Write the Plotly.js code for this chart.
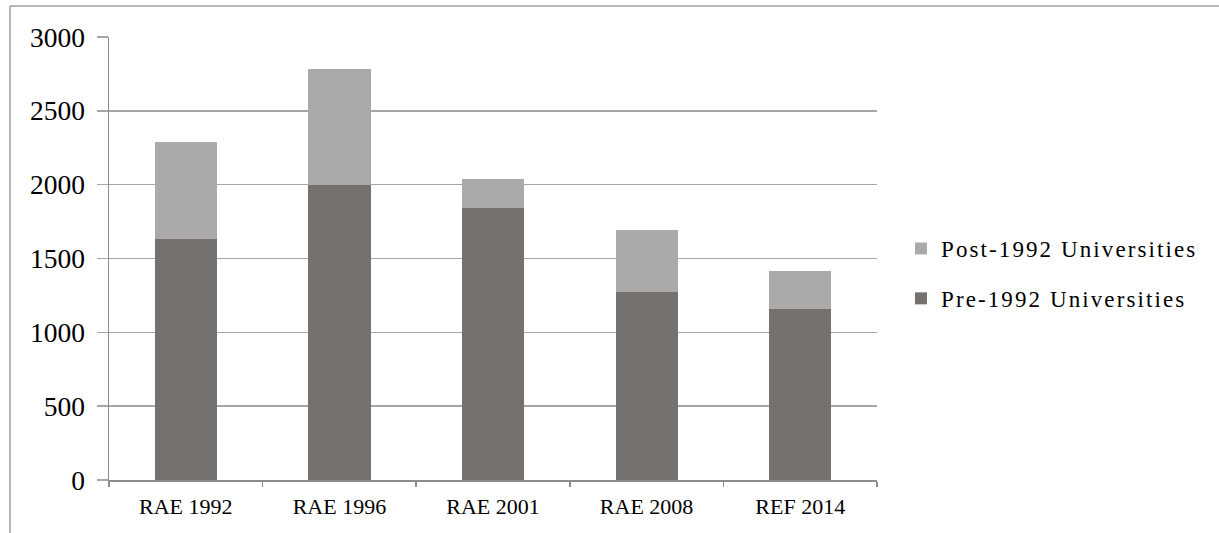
<!DOCTYPE html>
<html>
<head>
<meta charset="utf-8">
<script src="https://cdn.plot.ly/plotly-3.0.1.min.js"></script>
<style>
html,body{margin:0;padding:0;background:#fff;}
.legendtext{letter-spacing:2.1px;}
</style>
</head>
<body>
<div id="chart" style="width:1219px;height:533px;"></div>
<script>
const categories = ["RAE 1992", "RAE 1996", "RAE 2001", "RAE 2008", "REF 2014"];
const pre1992 = [1630, 2000, 1840, 1275, 1160];
const post1992 = [660, 780, 200, 420, 257];
const yTicks = [0, 500, 1000, 1500, 2000, 2500, 3000];

const W = 1219, H = 533;
const L = 109, R = 877, T = 37, B = 480;
const px = x => (x - L) / (R - L);
const py = y => (B - y) / (B - T);
const SERIF = 'Liberation Serif';

const traces = [
  {type: 'bar', name: 'Pre-1992 Universities', x: categories, y: pre1992,
   marker: {color: '#75716f'}, legendgroup: 'a', legendrank: 2},
  {type: 'bar', name: 'Post-1992 Universities', x: categories, y: post1992,
   marker: {color: '#acaaa9'}, legendgroup: 'b', legendrank: 1}
];

const layout = {
  width: W, height: H,
  margin: {l: L, r: W - R, t: T, b: H - B, pad: 0},
  barmode: 'stack',
  bargap: 0.595,
  paper_bgcolor: '#fff', plot_bgcolor: '#fff',
  font: {family: SERIF, color: '#000'},
  xaxis: {
    type: 'category',
    showline: true, linecolor: '#8c8c8c', linewidth: 1.5,
    ticks: 'outside', ticklen: 5, tickcolor: '#8c8c8c', tickwidth: 1.5,
    tickson: 'boundaries',
    ticklabelstandoff: 6,
    tickfont: {size: 22, family: SERIF, color: '#000'},
    showgrid: false, zeroline: false
  },
  yaxis: {
    range: [0, 3000], tickvals: yTicks, ticktext: yTicks.map(String),
    showline: true, linecolor: '#8c8c8c', linewidth: 1.5,
    ticks: 'outside', ticklen: 11, tickcolor: '#a6a6a6', tickwidth: 1.5,
    ticklabelstandoff: 6,
    showgrid: true, gridcolor: '#a6a6a6', gridwidth: 1.5,
    zeroline: false,
    tickfont: {size: 27.5, family: SERIF, color: '#000'}
  },
  legend: {
    x: px(901), xanchor: 'left', y: py(273.5), yanchor: 'middle',
    traceorder: 'grouped', tracegroupgap: 17,
    font: {size: 23, family: SERIF, color: '#000'},
    bgcolor: 'rgba(0,0,0,0)'
  },
  showlegend: true,
  shapes: [
    {type: 'line', xref: 'paper', yref: 'paper', x0: px(10), x1: px(1219), y0: py(6), y1: py(6),
     line: {color: '#a0a0a0', width: 1.5}},
    {type: 'line', xref: 'paper', yref: 'paper', x0: px(10), x1: px(10), y0: py(6), y1: py(533),
     line: {color: '#a0a0a0', width: 1.5}}
  ]
};

Plotly.newPlot('chart', traces, layout, {displayModeBar: false, staticPlot: true});
</script>
</body>
</html>
